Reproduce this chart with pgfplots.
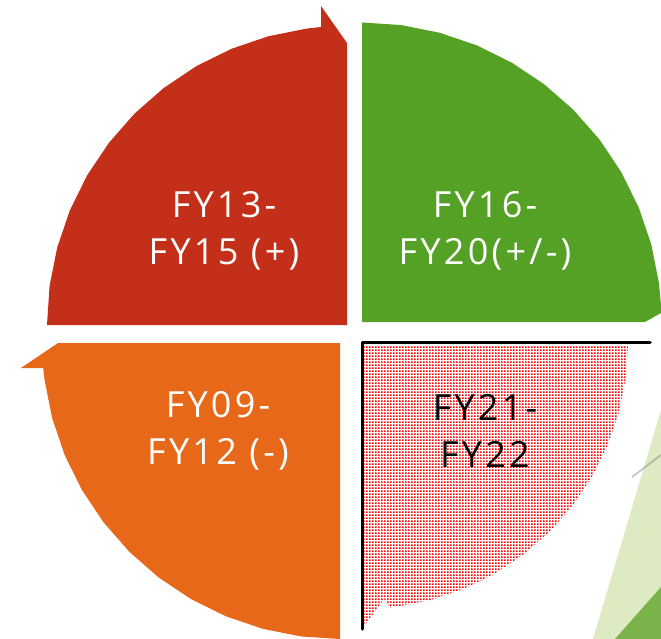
\documentclass[border=0pt]{standalone}
\usepackage{pgfplots}
\pgfplotsset{compat=1.18}
\usepackage{fontspec}
\setmainfont{Open Sans}[LetterSpace=9]
\usetikzlibrary{patterns}

\definecolor{segred}{RGB}{196,47,26}
\definecolor{seggreen}{RGB}{85,161,37}
\definecolor{segorange}{RGB}{232,104,26}
\definecolor{lightgreen}{RGB}{221,234,194}
\definecolor{darkgreen}{RGB}{122,179,74}

% small square dots, like the office "dotted" fill
\pgfdeclarepatternformonly{sqdots}{\pgfqpoint{0pt}{0pt}}{\pgfqpoint{3.3pt}{3.3pt}}{\pgfqpoint{3.3pt}{3.3pt}}%
{\pgfpathrectangle{\pgfqpoint{0pt}{0pt}}{\pgfqpoint{2pt}{2pt}}\pgfusepath{fill}}

\newcommand{\seglabel}[4]{% x, y, text colour, text
  \node[align=center, text=#3, inner sep=0pt, font=\fontsize{36}{47}\selectfont]
    at (axis cs:#1,#2) {#4};
}

\begin{document}
\begin{tikzpicture}
\begin{axis}[
    x=1pt, y=1pt,
    xmin=0, xmax=661, ymin=0, ymax=639,
    y dir=reverse,
    hide axis,
    clip=true,
]
% decorative triangles bottom right
\addplot[fill=lightgreen, draw=none] coordinates {(661,410) (661,639) (593,639)} -- cycle;
\addplot[fill=darkgreen, draw=none] coordinates {(661,587) (661,639) (615,639)} -- cycle;
\addplot[draw=gray, opacity=0.5, line width=1.5pt] coordinates {(632,477) (661,455)};

% FY13-FY15 (red, top left)
\addplot[fill=segred, draw=none] coordinates {
 (47,325) (49.56,285.97) (57.19,247.61) (69.76,210.58) (87.06,175.5)
 (108.79,142.98) (134.57,113.57) (163.98,87.79) (196.5,66.06) (231.58,48.76)
 (268.61,36.19) (306.97,28.56) (321,27) (321,6) (347,43) (347,325)} -- cycle;

% FY16-FY20 (green, top right)
\addplot[fill=seggreen, draw=none] coordinates {
 (362,22.5) (401.09,25.06) (439.52,32.70) (476.61,45.30) (511.75,62.62)
 (544.32,84.39) (573.78,110.22) (599.61,139.68) (621.38,172.25) (638.70,207.39)
 (651.30,244.48) (658.94,282.91) (661,305) (661,313) (645,322) (362,322)} -- cycle;

% FY09-FY12 (orange, bottom left)
\addplot[fill=segorange, draw=none] coordinates {
 (340,343) (58,343) (21,368) (43.2,368) (44.55,379.90) (52.15,418.13)
 (64.68,455.04) (81.92,490) (103.58,522.41) (129.28,551.72) (158.59,577.42)
 (191,599.08) (225.96,616.32) (262.87,628.85) (301.10,636.45) (340,639)} -- cycle;

% FY21-FY22 (dotted, bottom right)
\addplot[pattern=sqdots, pattern color=red, draw=none] coordinates {
 (364,345) (628,345) (625.72,377.72) (618.94,411.85) (607.75,444.79)
 (592.36,476) (573.03,504.93) (550.09,531.09) (523.93,554.03) (495,573.36)
 (463.79,588.75) (430.85,599.94) (396.72,606.72) (390,607.5) (384,599)
 (364,626)} -- cycle;
\addplot[draw=black, line width=3.5pt, line cap=round, line join=round]
 coordinates {(650,342.5) (362.5,342.5) (362.5,629)};

\seglabel{224}{231}{white}{FY13-\\FY15 (+)}
\seglabel{485}{231}{white}{FY16-\\FY20(+/-)}
\seglabel{218}{431}{white}{FY09-\\FY12 (-)}
\seglabel{485}{431}{black}{FY21-\\FY22}
\end{axis}
\pgfresetboundingbox
\path[use as bounding box] (current axis.south west) rectangle (current axis.north east);
\end{tikzpicture}
\end{document}
